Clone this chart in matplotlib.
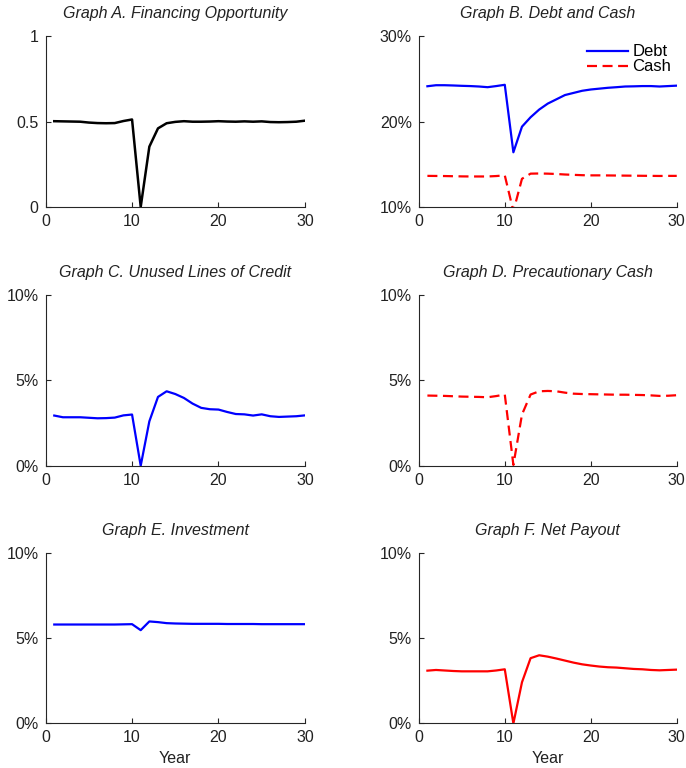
import matplotlib
matplotlib.use("Agg")
import matplotlib.pyplot as plt
import numpy as np

plt.rcParams["font.family"] = ["Liberation Sans", "DejaVu Sans"]

AXIS_COLOR = "#262626"

years = np.arange(1, 31)

financing = [0.502, 0.501, 0.500, 0.499, 0.494, 0.491, 0.490, 0.491, 0.503, 0.512,
             0.0, 0.353, 0.460, 0.490, 0.498, 0.502, 0.499, 0.499, 0.500, 0.502,
             0.500, 0.499, 0.501, 0.499, 0.501, 0.497, 0.496, 0.497, 0.499, 0.505]

debt = [24.13, 24.25, 24.25, 24.22, 24.18, 24.15, 24.10, 24.02, 24.15, 24.30,
        16.40, 19.40, 20.50, 21.40, 22.10, 22.60, 23.10, 23.35, 23.60, 23.75,
        23.85, 23.95, 24.02, 24.10, 24.12, 24.15, 24.15, 24.10, 24.15, 24.20]

cash = [13.64, 13.63, 13.62, 13.60, 13.58, 13.57, 13.57, 13.57, 13.62, 13.70,
        9.50, 13.30, 13.90, 13.92, 13.90, 13.86, 13.80, 13.76, 13.72, 13.70,
        13.70, 13.69, 13.68, 13.67, 13.66, 13.65, 13.64, 13.63, 13.64, 13.64]

unused_credit = [2.94, 2.84, 2.84, 2.84, 2.81, 2.78, 2.79, 2.82, 2.95, 3.00,
                 0.00, 2.60, 4.03, 4.36, 4.20, 3.97, 3.64, 3.39, 3.31, 3.29,
                 3.15, 3.03, 3.01, 2.94, 3.01, 2.90, 2.86, 2.88, 2.90, 2.95]

precautionary_cash = [4.11, 4.10, 4.09, 4.07, 4.05, 4.04, 4.03, 4.01, 4.08, 4.17,
                      0.05, 3.00, 4.17, 4.36, 4.38, 4.36, 4.28, 4.22, 4.20, 4.19,
                      4.18, 4.17, 4.16, 4.16, 4.15, 4.14, 4.12, 4.09, 4.10, 4.13]

investment = [5.79, 5.79, 5.79, 5.79, 5.79, 5.79, 5.79, 5.79, 5.80, 5.81,
              5.46, 5.97, 5.93, 5.87, 5.85, 5.84, 5.83, 5.83, 5.83, 5.83,
              5.82, 5.82, 5.82, 5.82, 5.81, 5.81, 5.81, 5.81, 5.81, 5.81]

net_payout = [3.09, 3.13, 3.10, 3.07, 3.05, 3.05, 3.05, 3.05, 3.10, 3.17,
              0.00, 2.41, 3.82, 3.99, 3.91, 3.80, 3.68, 3.56, 3.46, 3.39,
              3.33, 3.29, 3.27, 3.23, 3.19, 3.17, 3.13, 3.11, 3.13, 3.15]

# axes boxes in figure fractions: [left, bottom, width, height]
col_left = [0.0665, 0.6105]
col_width = [0.378, 0.376]
row_bottom = [0.7305, 0.3935, 0.0580]
row_height = 0.2225

DASH = (0, (4.5, 2.5))


def style_axes(ax, ylim, yticks, ylabels, title):
    ax.set_xlim(0, 30)
    ax.set_ylim(*ylim)
    ax.set_xticks([0, 10, 20, 30])
    ax.set_yticks(yticks)
    ax.set_yticklabels(ylabels)
    for side in ("top", "right"):
        ax.spines[side].set_visible(False)
    for side in ("left", "bottom"):
        ax.spines[side].set_color(AXIS_COLOR)
        ax.spines[side].set_linewidth(0.8)
    ax.tick_params(direction="in", length=3.5, width=0.8, colors=AXIS_COLOR,
                   labelsize=11.5, labelcolor="#222222", pad=5)
    ax.set_title(title, fontsize=11.5, style="italic", color="#222222", pad=13)


fig = plt.figure(figsize=(6.86, 7.68), dpi=100)

pct = ["0%", "5%", "10%"]

ax = fig.add_axes([col_left[0], row_bottom[0], col_width[0], row_height])
ax.plot(years, financing, color="black", lw=1.8)
style_axes(ax, (0, 1), [0, 0.5, 1], ["0", "0.5", "1"], "Graph A. Financing Opportunity")

ax = fig.add_axes([col_left[1], row_bottom[0], col_width[1], row_height])
ax.plot(years, debt, color="blue", lw=1.6, label="Debt")
ax.plot(years, cash, color="red", lw=1.6, ls=DASH, label="Cash")
style_axes(ax, (10, 30), [10, 20, 30], ["10%", "20%", "30%"], "Graph B. Debt and Cash")
ax.legend(loc="upper right", frameon=False, fontsize=12, handlelength=2.5,
          handletextpad=0.25, labelspacing=0.0, borderaxespad=0.0,
          bbox_to_anchor=(1.005, 0.99))

ax = fig.add_axes([col_left[0], row_bottom[1], col_width[0], row_height])
ax.plot(years, unused_credit, color="blue", lw=1.6)
style_axes(ax, (0, 10), [0, 5, 10], pct, "Graph C. Unused Lines of Credit")

ax = fig.add_axes([col_left[1], row_bottom[1], col_width[1], row_height])
ax.plot(years, precautionary_cash, color="red", lw=1.6, ls=DASH)
style_axes(ax, (0, 10), [0, 5, 10], pct, "Graph D. Precautionary Cash")

ax = fig.add_axes([col_left[0], row_bottom[2], col_width[0], row_height])
ax.plot(years, investment, color="blue", lw=1.6)
style_axes(ax, (0, 10), [0, 5, 10], pct, "Graph E. Investment")
ax.set_xlabel("Year", fontsize=11.5, color="#222222", labelpad=4)

ax = fig.add_axes([col_left[1], row_bottom[2], col_width[1], row_height])
ax.plot(years, net_payout, color="red", lw=1.6)
style_axes(ax, (0, 10), [0, 5, 10], pct, "Graph F. Net Payout")
ax.set_xlabel("Year", fontsize=11.5, color="#222222", labelpad=4)

fig.savefig("out.png", dpi=100)
